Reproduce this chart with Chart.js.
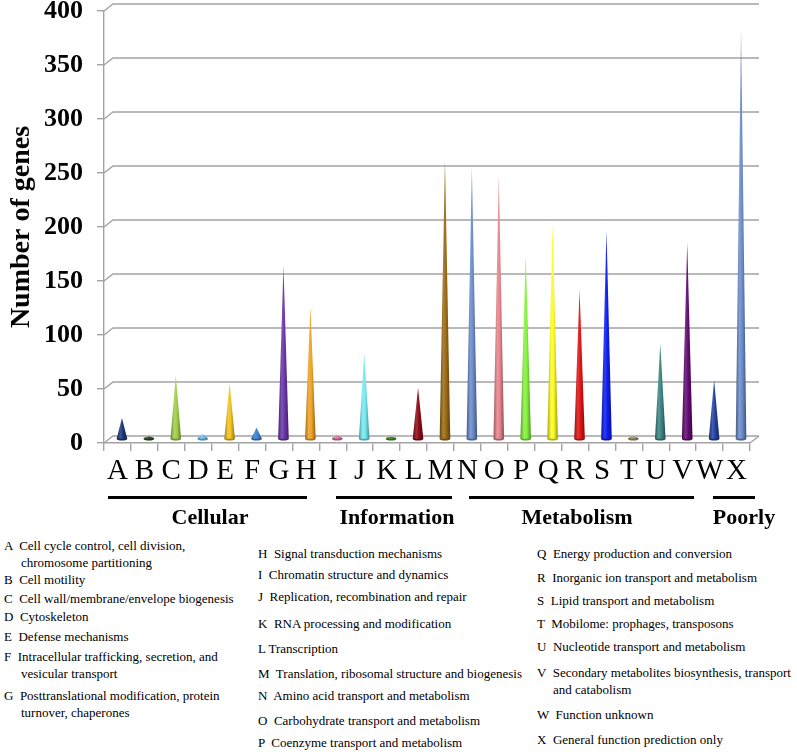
<!DOCTYPE html>
<html>
<head>
<meta charset="utf-8">
<script src="https://cdn.jsdelivr.net/npm/chart.js@4.4.1/dist/chart.umd.min.js"></script>
<style>
	body { margin:0; background:#fff; }
	#wrap { position:relative; width:797px; height:752px; overflow:hidden; font-family:"Liberation Serif","Times New Roman",serif; color:#000; }
	#chartBox { position:absolute; left:0; top:0; width:797px; height:500px; }
	.grp { position:absolute; height:3px; background:#000; }
	.grpName { position:absolute; font-weight:bold; font-size:22px; transform:translateX(-50%); white-space:nowrap; line-height:1; }
	.leg { position:absolute; font-size:13px; white-space:pre; line-height:1; }
</style>
</head>
<body>
<div id="wrap">
	<div id="chartBox"><canvas id="myChart"></canvas></div>
</div>
<script>
	// COG categories and gene counts
	var categories = ['A','B','C','D','E','F','G','H','I','J','K','L','M','N','O','P','Q','R','S','T','U','V','W','X'];
	var geneCounts = [20, 3, 59, 5, 52, 11, 161, 123, 4, 80, 2, 48, 259, 252, 244, 171, 200, 139, 193, 3, 89, 182, 55, 379];
	var coneColors = ['#1d3777','#2c4a1c','#9fd04a','#6cc3ee','#f2c21e','#3c82d8','#6b36aa','#f0a324','#e572a6','#74eaf2','#3f8f2c',
		'#8c0a14','#9c6b12','#6b8ccb','#e8838c','#86f23e','#fcfc22','#e01212','#0c1cf2','#a29262','#3c8484','#620a72','#2142a2','#6b8ccb'];

	// group bars under the axis
	var groupNames = ['Cellular', 'Information', 'Metabolism', 'Poorly'];

	// legend text
	var legendNames = [
		'Cell cycle control, cell division,\nchromosome partitioning',
		'Cell motility',
		'Cell wall/membrane/envelope biogenesis',
		'Cytoskeleton',
		'Defense mechanisms',
		'Intracellular trafficking, secretion, and\nvesicular transport',
		'Posttranslational modification, protein\nturnover, chaperones',
		'Signal transduction mechanisms',
		'Chromatin structure and dynamics',
		'Replication, recombination and repair',
		'RNA processing and modification',
		'Transcription',
		'Translation, ribosomal structure and biogenesis',
		'Amino acid transport and metabolism',
		'Carbohydrate transport and metabolism',
		'Coenzyme transport and metabolism',
		'Energy production and conversion',
		'Inorganic ion transport and metabolism',
		'Lipid transport and metabolism',
		'Mobilome: prophages, transposons',
		'Nucleotide transport and metabolism',
		'Secondary metabolites biosynthesis, transport\nand catabolism',
		'Function unknown',
		'General function prediction only'
	];

	var wrap = document.getElementById('wrap');

	// group lines + names
	var grpLines = [[108, 307], [336, 452], [469, 694], [713, 755]];
	var grpCenters = [210, 397, 577, 744];
	grpLines.forEach(function(g, i){
		var d = document.createElement('div');
		d.className = 'grp';
		d.style.left = g[0] + 'px';
		d.style.width = (g[1] - g[0]) + 'px';
		d.style.top = '496px';
		wrap.appendChild(d);
		var t = document.createElement('div');
		t.className = 'grpName';
		t.style.left = grpCenters[i] + 'px';
		t.style.top = '506px';
		t.textContent = groupNames[i];
		wrap.appendChild(t);
	});

	// legend layout: column x, first-line centre y
	var colX = [4, 258, 537];
	var indentX = [21, 272, 553];
	var rowY = [546, 580, 599, 617, 637, 657, 696,
		554, 575, 597, 624, 649, 674, 696, 721, 743,
		554, 578, 601, 624, 647, 673, 715, 740];
	categories.forEach(function(c, i){
		var col = i < 7 ? 0 : (i < 16 ? 1 : 2);
		var lines = legendNames[i].split('\n');
		lines.forEach(function(txt, k){
			var d = document.createElement('div');
			d.className = 'leg';
			d.style.left = (k == 0 ? colX[col] : indentX[col]) + 'px';
			d.style.top = (rowY[i] - 7 + k * 17) + 'px';
			d.textContent = k == 0 ? (c + (c == 'L' ? ' ' : '  ') + txt) : txt;
			wrap.appendChild(d);
		});
	});

	function shade(hex, f){
		var r = parseInt(hex.substr(1,2),16), g = parseInt(hex.substr(3,2),16), b = parseInt(hex.substr(5,2),16);
		if (f < 0) { r = r*(1+f); g = g*(1+f); b = b*(1+f); }
		else { r = r + (255-r)*f; g = g + (255-g)*f; b = b + (255-b)*f; }
		return 'rgb(' + Math.round(r) + ',' + Math.round(g) + ',' + Math.round(b) + ')';
	}

	var DX = 9, DY = 7; // depth of the 3D box

	// back wall grid lines with perspective
	var room3d = {
		id: 'room3d',
		beforeDatasetsDraw: function(chart){
			var ctx = chart.ctx, a = chart.chartArea, ys = chart.scales.y;
			ctx.save();
			ctx.strokeStyle = '#a3a3a3';
			ctx.lineWidth = 1.4;
			ys.ticks.forEach(function(t){
				var yp = ys.getPixelForValue(t.value);
				ctx.beginPath();
				ctx.moveTo(a.left, yp);
				ctx.lineTo(a.left + DX, yp - DY);
				ctx.lineTo(a.right + DX, yp - DY);
				ctx.stroke();
			});
			ctx.beginPath();
			ctx.moveTo(a.right, a.bottom);
			ctx.lineTo(a.right + DX, a.bottom - DY);
			ctx.stroke();
			ctx.restore();
		}
	};

	// draw each bar as a shaded cone
	var cones = {
		id: 'cones',
		afterDatasetsDraw: function(chart){
			var ctx = chart.ctx;
			var meta = chart.getDatasetMeta(0);
			ctx.save();
			meta.data.forEach(function(el, i){
				var col = coneColors[i];
				var cx = el.x + DX / 2, tip = el.y - DY / 2, base = el.base - DY / 2, hw = 5.3;
				var gr = ctx.createLinearGradient(cx - hw, 0, cx + hw, 0);
				gr.addColorStop(0, shade(col, -0.35));
				gr.addColorStop(0.35, shade(col, 0.15));
				gr.addColorStop(0.6, col);
				gr.addColorStop(1, shade(col, -0.4));
				ctx.fillStyle = shade(col, -0.3);
				ctx.beginPath();
				ctx.ellipse(cx, base, hw, 1.8, 0, 0, Math.PI * 2);
				ctx.fill();
				ctx.fillStyle = gr;
				ctx.beginPath();
				ctx.moveTo(cx - hw, base);
				ctx.lineTo(cx, tip);
				ctx.lineTo(cx + hw, base);
				ctx.closePath();
				ctx.fill();
			});
			ctx.restore();
		}
	};

	var serif = "'Liberation Serif', 'Times New Roman', serif";

	var data = {
		labels: categories,
		datasets: [{
			data: geneCounts,
			backgroundColor: 'rgba(0,0,0,0)',
			borderWidth: 0
		}]
	};

	var options = {
		responsive: true,
		maintainAspectRatio: false,
		animation: false,
		layout: { padding: { top: 11, right: 47, left: 0, bottom: 0 } },
		plugins: { legend: { display: false }, tooltip: { enabled: false } },
		scales: {
			x: {
				afterFit: function(axis){ axis.height = 57; axis.paddingLeft = 0; axis.paddingRight = 0; },
				grid: { offset: true, drawOnChartArea: false, drawTicks: true, tickLength: 8, color: '#a3a3a3', lineWidth: 1.4 },
				border: { display: true, color: '#a3a3a3', width: 1.4 },
				ticks: { color: '#000', padding: 3, maxRotation: 0, autoSkip: false, font: { family: serif, size: 29 } }
			},
			y: {
				min: 0, max: 400,
				afterFit: function(axis){ axis.width = 104; axis.paddingTop = 0; axis.paddingBottom = 0; },
				grid: { drawOnChartArea: false, drawTicks: true, tickLength: 7, color: '#a3a3a3', lineWidth: 1.4 },
				border: { display: true, color: '#a3a3a3', width: 1.4 },
				ticks: { stepSize: 50, color: '#000', padding: 14, font: { family: serif, size: 26, weight: 'bold' } },
				title: { display: true, text: 'Number of genes', color: '#000', padding: { top: 5, bottom: 0 }, font: { family: serif, size: 28, weight: 'bold' } }
			}
		}
	};

	var ctx = document.getElementById('myChart').getContext('2d');
	var myChart = new Chart(ctx, {
		type: 'bar',
		data: data,
		options: options,
		plugins: [room3d, cones]
	});
</script>
</body>
</html>
